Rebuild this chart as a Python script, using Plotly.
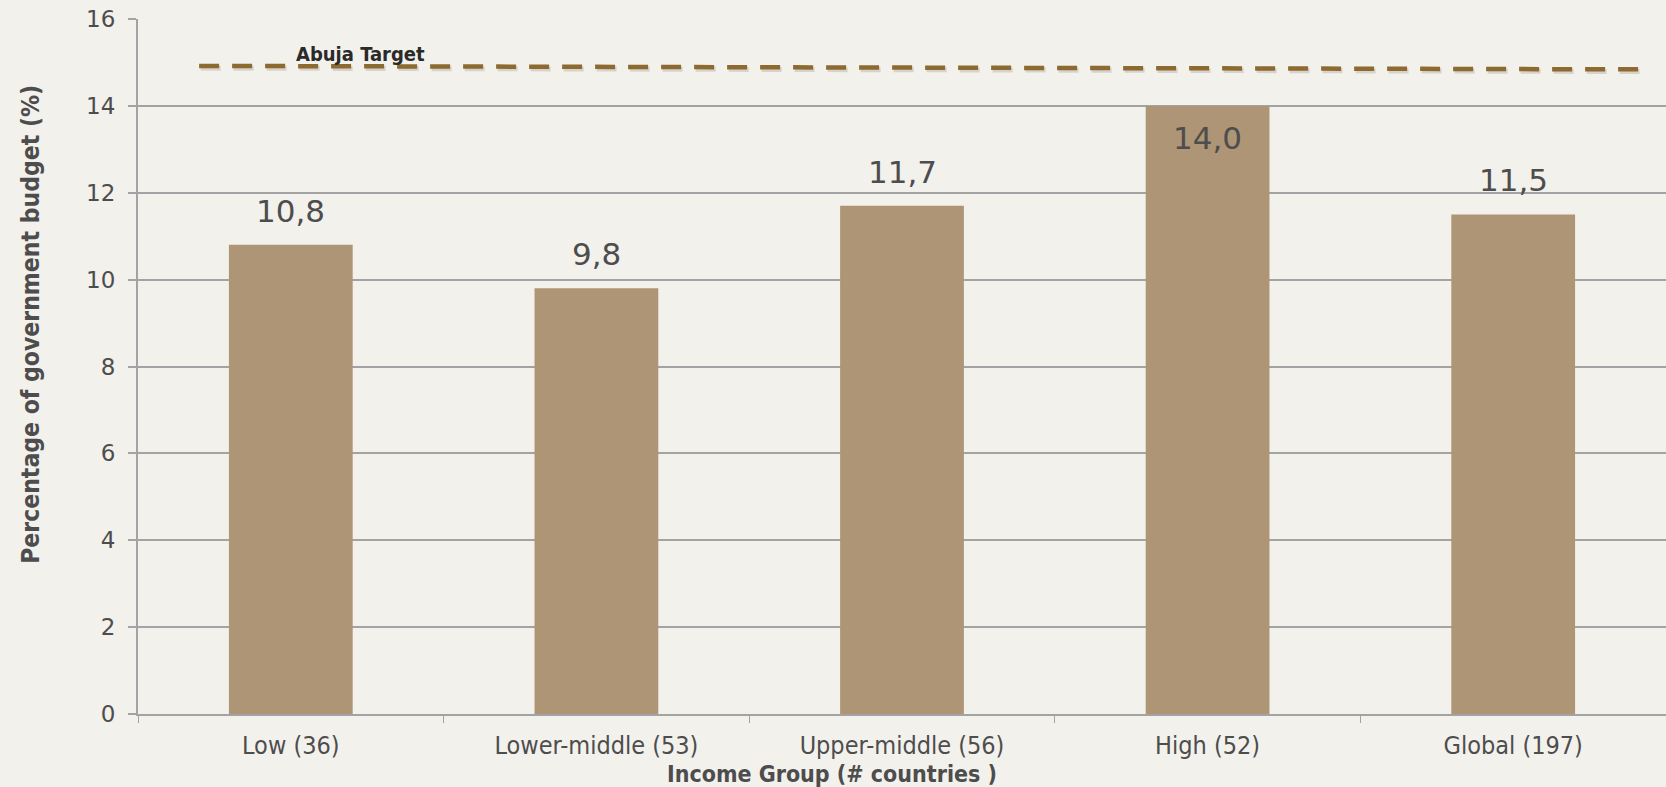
import plotly.graph_objects as go

# Health spending share of government budget by income group
groups = ["Low (36)", "Lower-middle (53)", "Upper-middle (56)", "High (52)", "Global (197)"]
shares = [10.8, 9.8, 11.7, 14.0, 11.5]
value_labels = ["10,8", "9,8", "11,7", "14,0", "11,5"]
label_inside = [False, False, False, True, False]

# Abuja Target reference line (left and right end levels)
target_level = [14.92, 14.84]
target_text = "Abuja Target"

y_ticks = [0, 2, 4, 6, 8, 10, 12, 14, 16]

BG = "#f3f1ec"
BAR = "#ae9576"
TXT = "#4d4d4d"
GRID = "#a3a3a6"
LINE = "#8c6a30"
NARROW = "DejaVu Sans Condensed, Liberation Sans Narrow, Roboto, sans-serif"
WIDE = "DejaVu Sans, Roboto, sans-serif"

fig = go.Figure()
fig.add_trace(go.Bar(
    x=groups, y=shares, marker_color=BAR, marker_line_width=0,
    hoverinfo="x+y", showlegend=False,
))

annotations = []
for g, v, t, inside in zip(groups, shares, value_labels, label_inside):
    annotations.append(dict(
        x=g, y=v, xref="x", yref="y", text=t, showarrow=False,
        xanchor="center", yanchor="middle", yshift=-32 if inside else 34,
        font=dict(family=WIDE, size=31, color=TXT),
    ))

annotations += [
    dict(x=(360 - 138) / 1528, y=15.2, xref="paper", yref="y", text=f"<b>{target_text}</b>",
         xanchor="center", yanchor="middle", showarrow=False,
         font=dict(family=NARROW, size=20, color="#2a2a2a")),
    dict(x=(832 - 138) / 1528, y=-0.087, xref="paper", yref="paper",
         xanchor="center", yanchor="middle",
         text="<b>Income Group (# countries )</b>", showarrow=False,
         font=dict(family=NARROW, size=23, color=TXT)),
    dict(x=-0.07, y=0.56, xref="paper", yref="paper", textangle=-90,
         text="<b>Percentage of government budget (%)</b>", showarrow=False,
         xanchor="center", yanchor="middle",
         font=dict(family=NARROW, size=24.5, color=TXT)),
]

shapes = [
    # soft shadow beneath the dashed target line
    dict(type="line", xref="paper", yref="y", x0=0.041, x1=0.990,
         y0=target_level[0] - 0.05, y1=target_level[1] - 0.05,
         line=dict(color="rgba(90,80,60,0.18)", width=5, dash="20px,13px")),
    dict(type="line", xref="paper", yref="y", x0=0.040, x1=0.989,
         y0=target_level[0], y1=target_level[1],
         line=dict(color=LINE, width=4.5, dash="20px,13px")),
]

fig.update_layout(
    width=1666, height=787,
    margin=dict(l=138, r=0, t=19, b=73),
    paper_bgcolor=BG, plot_bgcolor=BG,
    bargap=0.595,
    font=dict(family=NARROW, color=TXT),
    annotations=annotations,
    shapes=shapes,
)
fig.update_xaxes(
    type="category", showgrid=False,
    showline=True, linecolor=GRID, linewidth=2,
    ticks="outside", tickson="boundaries", ticklen=7, tickcolor=GRID, tickwidth=1,
    ticklabelstandoff=8,
    tickfont=dict(family=NARROW, size=25, color=TXT),
)
fig.update_yaxes(
    range=[0, 16], tickvals=y_ticks, ticktext=[str(v) for v in y_ticks],
    showgrid=True, gridcolor=GRID, gridwidth=1.5, zeroline=False,
    showline=True, linecolor=GRID, linewidth=2,
    ticks="outside", ticklen=8, tickcolor=GRID, tickwidth=1.5,
    ticklabelstandoff=8,
    tickfont=dict(family=WIDE, size=23, color=TXT),
)

fig.write_html("out.html")
